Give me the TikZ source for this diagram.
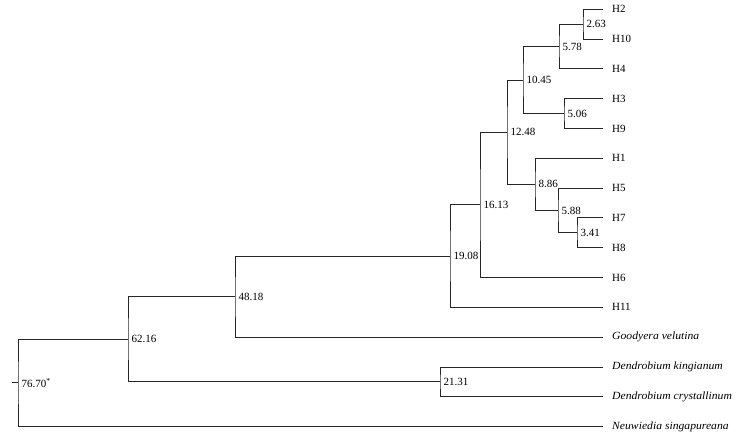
\documentclass[tikz,border=0pt]{standalone}
\usepackage{fontspec}
\setmainfont{Liberation Serif}
\newfontfamily\speciesfont[FakeStretch=1.06]{Liberation Serif}
\usetikzlibrary{positioning}
\tikzset{
    x=1pt, y=-1pt, % one unit is one pixel of the reference, y grows downwards
    branch/.style={line width=0.8pt, draw=black!85}, % the branches
    leaf/.style={anchor=west, inner xsep=9pt, inner ysep=1pt}, % the names at the tips
    species/.style={leaf, font=\fontsize{11}{13}\speciesfont\itshape}, % outgroup names
    age/.style={anchor=west, inner xsep=3.5pt, inner ysep=1pt}, % the ages at the nodes
}

\begin{document}
\begin{tikzpicture}[font=\fontsize{11}{13}\selectfont]
    \useasboundingbox (0,0) rectangle (738,438);
    % tips
    \node[leaf] (H2) at (603,9.3) {H2};
    \node[leaf] (H10) at (603,39.1) {H10};
    \node[leaf] (H4) at (603,68.9) {H4};
    \node[leaf] (H3) at (603,98.7) {H3};
    \node[leaf] (H9) at (603,128.5) {H9};
    \node[leaf] (H1) at (603,158.3) {H1};
    \node[leaf] (H5) at (603,188.1) {H5};
    \node[leaf] (H7) at (603,217.9) {H7};
    \node[leaf] (H8) at (603,247.7) {H8};
    \node[leaf] (H6) at (603,277.5) {H6};
    \node[leaf] (H11) at (603,307.3) {H11};
    \node[species] (gv) at (603,337.1) {Goodyera velutina};
    \node[species] (dk) at (603,366.9) {Dendrobium kingianum};
    \node[species] (dc) at (603,396.7) {Dendrobium crystallinum};
    \node[species] (ns) at (603,426.5) {Neuwiedia singapureana};
    % inner nodes
    \node[age] (a263) at (583,24.2) {2.63};
    \node[age] (a578) at (559,46.55) {5.78};
    \node[age] (a506) at (564,113.6) {5.06};
    \node[age] (a1045) at (523,80.1) {10.45};
    \node[age] (a341) at (577,232.8) {3.41};
    \node[age] (a588) at (558,210.45) {5.88};
    \node[age] (a886) at (535,184.4) {8.86};
    \node[age] (a1248) at (507,132.25) {12.48};
    \node[age] (a1613) at (480,204.9) {16.13};
    \node[age] (a1908) at (450,256.1) {19.08};
    \node[age] (a4818) at (235,296.6) {48.18};
    \node[age] (a2131) at (440,381.8) {21.31};
    \node[age] (a6216) at (128,339.2) {62.16};
    \node[age] (a7670) at (18,382.85) {76.70\textsuperscript{*}};
    \coordinate (root) at (12,382.85);
    % branches
    \draw[branch] (H2.west) -| (a263.west) |- (H10.west);
    \draw[branch] (a263.west) -| (a578.west) |- (H4.west);
    \draw[branch] (H3.west) -| (a506.west) |- (H9.west);
    \draw[branch] (a578.west) -| (a1045.west) |- (a506.west);
    \draw[branch] (H7.west) -| (a341.west) |- (H8.west);
    \draw[branch] (H5.west) -| (a588.west) |- (a341.west);
    \draw[branch] (H1.west) -| (a886.west) |- (a588.west);
    \draw[branch] (a1045.west) -| (a1248.west) |- (a886.west);
    \draw[branch] (a1248.west) -| (a1613.west) |- (H6.west);
    \draw[branch] (a1613.west) -| (a1908.west) |- (H11.west);
    \draw[branch] (a1908.west) -| (a4818.west) |- (gv.west);
    \draw[branch] (dk.west) -| (a2131.west) |- (dc.west);
    \draw[branch] (a4818.west) -| (a6216.west) |- (a2131.west);
    \draw[branch] (a6216.west) -| (a7670.west) |- (ns.west);
    \draw[branch] (root) -- (a7670.west);
\end{tikzpicture}
\end{document}
